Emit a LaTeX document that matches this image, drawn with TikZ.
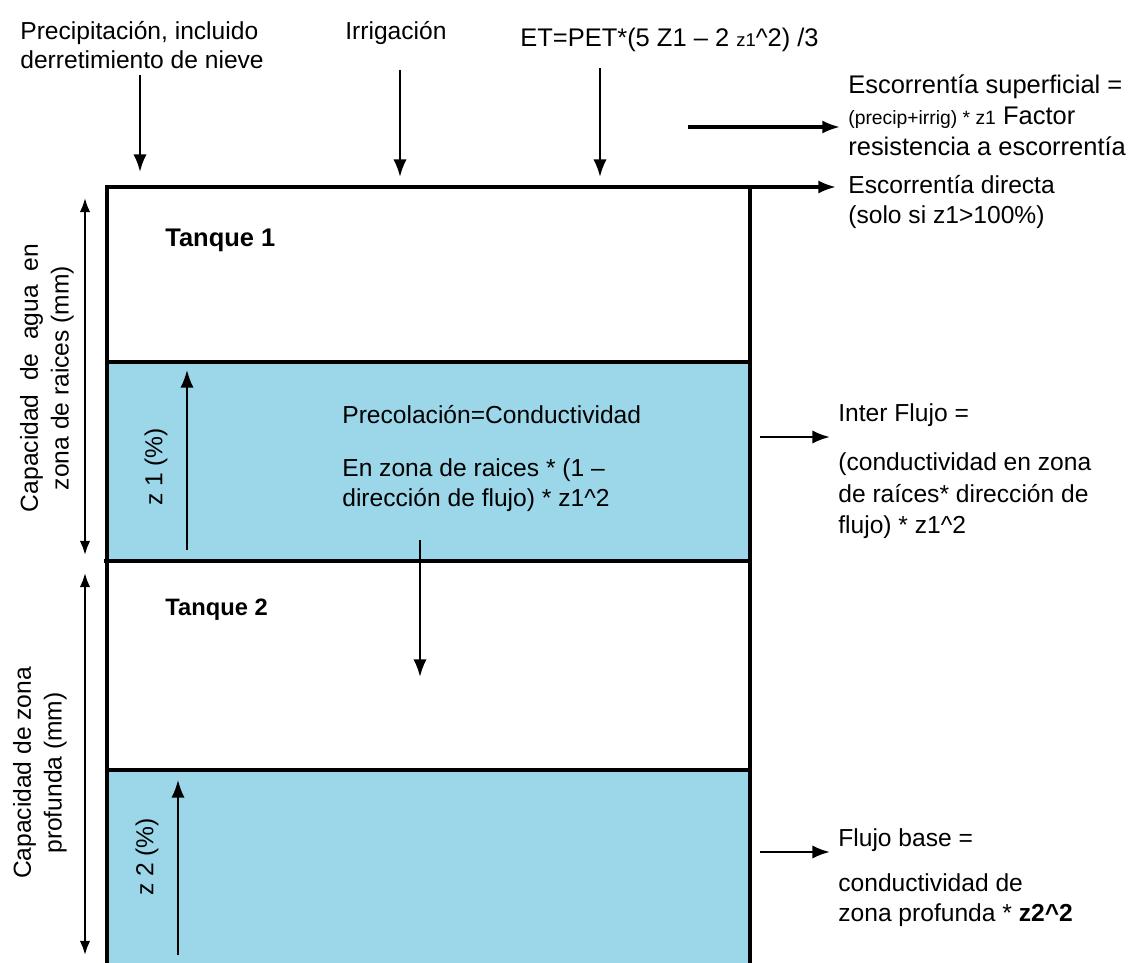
\documentclass[tikz,border=0pt]{standalone}
\usepackage{fontspec}
\setmainfont{Liberation Sans}
\usetikzlibrary{arrows.meta}
\definecolor{tankblue}{RGB}{155,215,232}
\begin{document}
\begin{tikzpicture}[x=0.02cm,y=-0.02cm,
  txt/.style={font=\fontsize{14}{17}\selectfont, inner sep=0pt, align=left, anchor=west},
  tank/.style={font=\fontsize{14.5}{17}\selectfont\bfseries, inner sep=0pt, anchor=west},
  side/.style={font=\fontsize{14}{17.5}\selectfont, inner sep=0pt, align=center, rotate=90},
  flow/.style={-{Latex[length=10pt,width=7.5pt]}, line width=1.4pt},
  dbl/.style={{Latex[length=8pt,width=6pt]}-{Latex[length=8pt,width=6pt]}, line width=1.2pt},
  wall/.style={line width=1.8pt}]
\useasboundingbox (0,0) rectangle (1137,963);
% tanks
\fill[tankblue] (107,362) rectangle (750,561);
\fill[tankblue] (107,770) rectangle (750,963);
\coordinate (bl) at (107,963);
\coordinate (tl) at (107,187);
\coordinate (tr) at (750,187);
\coordinate (br) at (750,963);
\coordinate (dirend) at (836,187);
\draw[wall] (bl) -- (tl) -- (tr) -- (br);
\draw[flow, line width=1.8pt] (tr) -- (dirend);
\draw[wall] (107,362) -- (750,362);
\draw[wall, line width=2.2pt] (104,561) -- (750,561);
\draw[wall] (107,770) -- (750,770);

% top texts
\node[txt] (precip) at (20,45) {Precipitación, incluido\\derretimiento de nieve};
\node[txt] (irrig) at (345,33) {Irrigación};
\node[txt, font=\fontsize{14.5}{17}\selectfont] (et) at (520,40) {ET=PET*(5 Z1 -- 2 {\fontsize{10.5}{12}\selectfont z1}\^{}2) /3};
\node[txt, font=\fontsize{14.5}{17.5}\selectfont] (esup) at (848,115) {Escorrentía superficial =\\{\fontsize{11}{12}\selectfont (precip+irrig) * z1} Factor\\resistencia a escorrentía};
\node[txt] (edir) at (848,202) {Escorrentía directa\\(solo si z1>100\%)};

\coordinate (p1) at (140,75);  \coordinate (p2) at (140,172);
\coordinate (i1) at (400,70);  \coordinate (i2) at (400,177);
\coordinate (e1) at (600,68);  \coordinate (e2) at (600,177);
\coordinate (s1) at (688,127); \coordinate (s2) at (840,127);
\draw[flow] (p1) -- (p2);
\draw[flow] (i1) -- (i2);
\draw[flow] (e1) -- (e2);
\draw[flow, line width=1.8pt] (s1) -- (s2);

% tank labels
\node[tank] (t1) at (165,240) {Tanque 1};
\node[tank, font=\fontsize{13.5}{16}\selectfont\bfseries] (t2) at (165,610) {Tanque 2};

% percolation
\node[txt] (perc) at (342,415) {Precolación=Conductividad};
\node[txt] (perc2) at (342,485) {En zona de raices * (1 --\\dirección de flujo) * z1\^{}2};
\coordinate (c1) at (420,540); \coordinate (c2) at (420,677);
\draw[flow] (c1) -- (c2);

% inter flujo
\node[txt] (inter) at (838,415) {Inter Flujo =};
\node[txt, font=\fontsize{14}{18}\selectfont] (inter2) at (838,496) {(conductividad en zona\\de raíces* dirección de\\flujo) * z1\^{}2};
\coordinate (f1) at (760,437); \coordinate (f2) at (830,437);
\draw[flow] (f1) -- (f2);

% flujo base
\node[txt] (base) at (838,840) {Flujo base =};
\node[txt] (base2) at (838,900) {conductividad de\\zona profunda * \textbf{z2\^{}2}};
\coordinate (b1) at (760,852); \coordinate (b2) at (830,852);
\draw[flow] (b1) -- (b2);

% side dimensions
\coordinate (d1a) at (85,198); \coordinate (d1b) at (85,555);
\coordinate (d2a) at (85,573); \coordinate (d2b) at (85,955);
\draw[dbl] (d1a) -- (d1b);
\draw[dbl] (d2a) -- (d2b);
\node[side] (cap1) at (47,378) {Capacidad \ de \ agua \ en\\zona de raices (mm)};
\node[side] (cap2) at (40,773) {Capacidad de zona\\profunda (mm)};

% level arrows
\coordinate (z1a) at (187,550); \coordinate (z1b) at (187,370);
\coordinate (z2a) at (178,955); \coordinate (z2b) at (178,780);
\draw[flow, line width=1.2pt] (z1a) -- (z1b);
\draw[flow, line width=1.2pt] (z2a) -- (z2b);
\node[side, font=\fontsize{14}{17}\selectfont] (z1l) at (156,467) {z 1 (\%)};
\node[side, font=\fontsize{14}{17}\selectfont] (z2l) at (147,857) {z 2 (\%)};
\end{tikzpicture}
\end{document}
